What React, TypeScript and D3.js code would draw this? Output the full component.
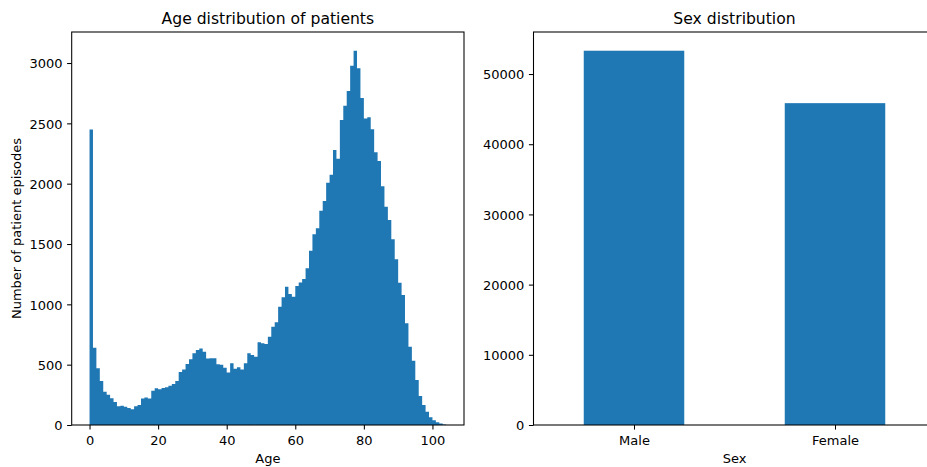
import React, { useEffect, useRef } from "react";
import * as d3 from "d3";

// Patient episodes per one-year age bin, starting at age 0
const ageCounts = [
  2450, 640, 470, 365, 276, 250, 221, 190, 155, 160,
  152, 140, 130, 155, 166, 220, 228, 220, 284, 304,
  296, 307, 312, 325, 340, 365, 439, 461, 505, 544,
  594, 621, 635, 608, 552, 554, 554, 503, 500, 475,
  436, 511, 467, 478, 459, 511, 594, 580, 566, 685,
  677, 671, 732, 815, 851, 981, 1058, 1146, 1086, 1063,
  1152, 1180, 1210, 1300, 1445, 1580, 1630, 1776, 1856, 2008,
  2074, 2279, 2207, 2528, 2646, 2768, 2978, 3102, 2956, 2710,
  2541, 2550, 2452, 2260, 2188, 1978, 1809, 1699, 1539, 1373,
  1179, 1077, 843, 649, 533, 373, 240, 166, 110, 65,
  40, 22, 12, 5,
];
const ageBinStart = 0;
const ageBinWidth = 1;
const ageTicks = [0, 20, 40, 60, 80, 100];
const ageCountTicks = [0, 500, 1000, 1500, 2000, 2500, 3000];

const sexCategories = ["Male", "Female"];
const sexCounts = [53320, 45850];
const sexCountTicks = [0, 10000, 20000, 30000, 40000, 50000];

const W = 927;
const H = 467;
const FONT = "'DejaVu Sans', sans-serif";
const BAR = "#1f77b4";
const TICK_FS = 13;
const TITLE_FS = 15.6;
const TICK_LEN = 4.6;
const TICK_PAD = 4.6;
const SPINE_W = 1.06;

type Box = { x0: number; x1: number; y0: number; y1: number };

function spines(g: d3.Selection<SVGGElement, unknown, null, undefined>, b: Box) {
  g.append("rect")
    .attr("x", b.x0)
    .attr("y", b.y0)
    .attr("width", b.x1 - b.x0)
    .attr("height", b.y1 - b.y0)
    .attr("fill", "none")
    .attr("stroke", "#000")
    .attr("stroke-width", SPINE_W);
}

function styleAxis(g: d3.Selection<SVGGElement, unknown, null, undefined>, dy: string) {
  g.select(".domain").remove();
  g.attr("font-family", FONT).attr("font-size", TICK_FS);
  g.selectAll(".tick line").attr("stroke", "#000").attr("stroke-width", SPINE_W);
  g.selectAll(".tick text").attr("fill", "#000").attr("dy", dy);
}

export default function App() {
  const ref = useRef<SVGSVGElement>(null);

  useEffect(() => {
    const svg = d3.select(ref.current as SVGSVGElement);
    svg.selectAll("*").remove();

    // ---- Age histogram ----
    const A: Box = { x0: 71.7, x1: 464, y0: 32, y1: 425 };
    const edges = d3.range(ageCounts.length + 1).map((i) => ageBinStart + i * ageBinWidth);
    const eMin = edges[0];
    const eMax = edges[edges.length - 1];
    const pad = (eMax - eMin) * 0.05;
    const xA = d3.scaleLinear().domain([eMin - pad, eMax + pad]).range([A.x0, A.x1]);
    const yA = d3
      .scaleLinear()
      .domain([0, (d3.max(ageCounts) as number) * 1.05])
      .range([A.y1, A.y0]);

    const gA = svg.append("g");
    // all bins in one path so adjacent bars fill without seams
    const hist = d3.path();
    ageCounts.forEach((c, i) => {
      const x0 = xA(edges[i]);
      const x1 = xA(edges[i + 1]);
      hist.rect(x0, yA(c), x1 - x0, yA(0) - yA(c));
    });
    gA.append("path").attr("d", hist.toString()).attr("fill", BAR);

    const axAx = gA
      .append("g")
      .attr("transform", `translate(0,${A.y1})`)
      .call(d3.axisBottom(xA).tickValues(ageTicks).tickSize(TICK_LEN).tickPadding(TICK_PAD).tickSizeOuter(0));
    styleAxis(axAx, "0.84em");
    const axAy = gA
      .append("g")
      .attr("transform", `translate(${A.x0},0)`)
      .call(d3.axisLeft(yA).tickValues(ageCountTicks).tickSize(TICK_LEN).tickPadding(TICK_PAD).tickSizeOuter(0).tickFormat(d3.format("d")));
    styleAxis(axAy, "0.36em");
    spines(gA, A);

    gA.append("text")
      .attr("x", (A.x0 + A.x1) / 2)
      .attr("y", A.y0 - 8)
      .attr("text-anchor", "middle")
      .attr("font-family", FONT)
      .attr("font-size", TITLE_FS)
      .text("Age distribution of patients");
    gA.append("text")
      .attr("x", (A.x0 + A.x1) / 2)
      .attr("y", 463)
      .attr("text-anchor", "middle")
      .attr("font-family", FONT)
      .attr("font-size", TICK_FS)
      .text("Age");
    gA.append("text")
      .attr("transform", `translate(20.5,${(A.y0 + A.y1) / 2}) rotate(-90)`)
      .attr("text-anchor", "middle")
      .attr("font-family", FONT)
      .attr("font-size", TICK_FS)
      .text("Number of patient episodes");

    // ---- Sex bar chart ----
    const S: Box = { x0: 533.5, x1: 935.5, y0: 32, y1: 425 };
    const idx = sexCategories.map((_, i) => i);
    const xS = d3.scaleLinear().domain([-0.5, sexCategories.length - 0.5]).range([S.x0, S.x1]);
    const yS = d3
      .scaleLinear()
      .domain([0, (d3.max(sexCounts) as number) * 1.05])
      .range([S.y1, S.y0]);
    const barW = 0.5;

    const gS = svg.append("g");
    gS.append("g")
      .selectAll("rect")
      .data(sexCounts)
      .join("rect")
      .attr("x", (_, i) => xS(i - barW / 2))
      .attr("width", (_, i) => xS(i + barW / 2) - xS(i - barW / 2))
      .attr("y", (d) => yS(d))
      .attr("height", (d) => yS(0) - yS(d))
      .attr("fill", BAR);

    const axSx = gS
      .append("g")
      .attr("transform", `translate(0,${S.y1})`)
      .call(
        d3
          .axisBottom(xS)
          .tickValues(idx)
          .tickFormat((d) => sexCategories[d as number])
          .tickSize(TICK_LEN)
          .tickPadding(TICK_PAD)
          .tickSizeOuter(0)
      );
    styleAxis(axSx, "0.84em");
    const axSy = gS
      .append("g")
      .attr("transform", `translate(${S.x0},0)`)
      .call(d3.axisLeft(yS).tickValues(sexCountTicks).tickSize(TICK_LEN).tickPadding(TICK_PAD).tickSizeOuter(0).tickFormat(d3.format("d")));
    styleAxis(axSy, "0.36em");
    spines(gS, S);

    gS.append("text")
      .attr("x", (S.x0 + S.x1) / 2)
      .attr("y", S.y0 - 8)
      .attr("text-anchor", "middle")
      .attr("font-family", FONT)
      .attr("font-size", TITLE_FS)
      .text("Sex distribution");
    gS.append("text")
      .attr("x", (S.x0 + S.x1) / 2)
      .attr("y", 463)
      .attr("text-anchor", "middle")
      .attr("font-family", FONT)
      .attr("font-size", TICK_FS)
      .text("Sex");
  }, []);

  return (
    <svg
      ref={ref}
      width={W}
      height={H}
      viewBox={`0 0 ${W} ${H}`}
      style={{ position: "absolute", left: 0, top: 0, background: "#fff", display: "block" }}
    />
  );
}
